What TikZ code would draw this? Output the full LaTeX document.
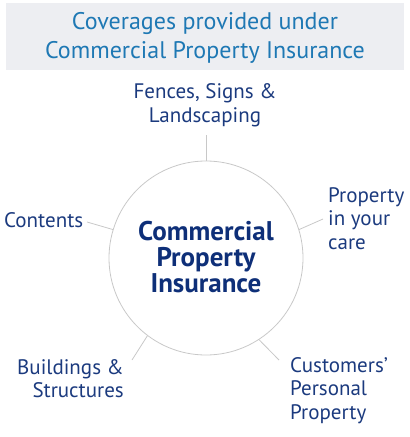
\documentclass[tikz,border=0pt]{standalone}
\usepackage{fontspec}
\setmainfont{PT Sans}
\definecolor{titlebg}{HTML}{EDEEF2}
\definecolor{titleblue}{HTML}{1E78B4}
\definecolor{navy}{HTML}{1B3A7E}
\definecolor{deepnavy}{HTML}{0E2F78}
\definecolor{linegray}{HTML}{C8C8C8}
\begin{document}
\begin{tikzpicture}[x=1pt,y=-1pt,
  lbl/.style={text=navy,font=\fontsize{21}{23.5}\selectfont,inner sep=0pt},
  conn/.style={draw=linegray,line width=0.8pt}]
\useasboundingbox (0,0) rectangle (410,437);
\node[fill=titlebg,minimum width=398pt,minimum height=67pt,inner sep=0pt] (titlebox) at (205,36.5) {};
\node[text=titleblue,font=\fontsize{24}{28.5}\selectfont,align=center,inner sep=0pt] (title) at (205,38) {Coverages provided under\\Commercial Property Insurance};
\node[draw=linegray,line width=0.8pt,circle,minimum size=194pt,inner sep=0pt] (hub) at (206,258) {};
\node[text=deepnavy,font=\bfseries\fontsize{27}{26}\selectfont,align=center,inner sep=0pt] (hubtext) at (206,257) {Commercial\\Property\\Insurance};
\node[lbl,align=center] (fences) at (205,105) {Fences, Signs \&\\Landscaping};
\node[lbl,anchor=west] (contents) at (4,220) {Contents};
\node[lbl,align=left,anchor=north west] (care) at (328,187) {Property\\in your\\care};
\node[lbl,align=left,anchor=north west] (cust) at (290,357) {Customers’\\Personal\\Property};
\node[lbl,align=right,anchor=north east] (bldg) at (124,359) {Buildings \&\\Structures};
\coordinate (fencesEnd) at (206,135);
\coordinate (contentsEnd) at (87,222);
\coordinate (careEnd) at (323,219);
\coordinate (custEnd) at (279,360);
\coordinate (bldgEnd) at (132,360);
\draw[conn] (fencesEnd) -- (hub.90);
\draw[conn] (contentsEnd) -- (hub.163);
\draw[conn] (careEnd) -- (hub.17);
\draw[conn] (custEnd) -- (hub.-57);
\draw[conn] (bldgEnd) -- (hub.-127);
\end{tikzpicture}
\end{document}
